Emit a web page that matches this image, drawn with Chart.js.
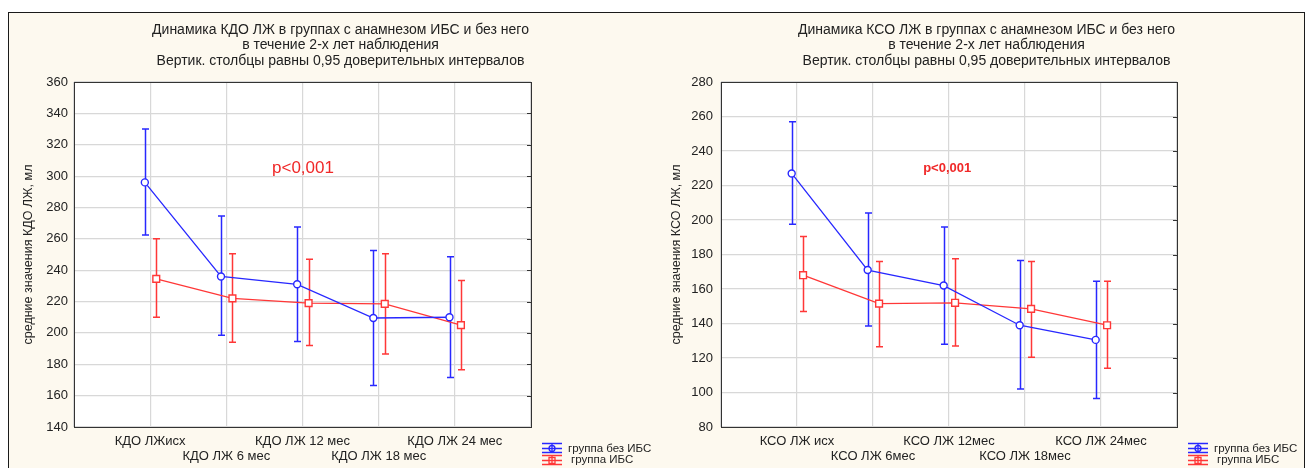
<!DOCTYPE html>
<html>
<head>
<meta charset="utf-8">
<script src="https://cdn.jsdelivr.net/npm/chart.js@4.4.1/dist/chart.umd.min.js"></script>
<style>
  html, body { margin: 0; padding: 0; background: #ffffff; }
  body { width: 1314px; height: 468px; overflow: hidden; position: relative; }
  #panel { position: absolute; left: 8px; top: 12px; width: 1295px; height: 470px;
           border: 1px solid #1a1a1a; background: #fdf9ef; }
  canvas { position: absolute; top: 0; }
  #ch-kdo { left: 0; }
  #ch-kso { left: 657px; }
</style>
</head>
<body>
<div id="panel"></div>
<canvas id="ch-kdo" width="681" height="468"></canvas>
<canvas id="ch-kso" width="659" height="468"></canvas>

<script>
// --- data ---
const SERIES_NAMES = ["группа без ИБС", "группа ИБС"];
const SUBTITLE = "Вертик. столбцы равны 0,95 доверительных интервалов";

// КДО (end-diastolic volume)
const kdoLabels = ["КДО ЛЖисх", "КДО ЛЖ 6 мес", "КДО ЛЖ 12 мес", "КДО ЛЖ 18 мес", "КДО ЛЖ 24 мес"];
const kdoNoIhdMean = [296, 236, 231, 209.5, 210];
const kdoNoIhdLow  = [262.5, 198.5, 194.5, 166.5, 171.5];
const kdoNoIhdHigh = [330, 274.5, 267.5, 252.5, 248.5];
const kdoIhdMean   = [234.5, 222, 219, 218.5, 205];
const kdoIhdLow    = [210, 194, 192, 186.5, 176.5];
const kdoIhdHigh   = [260, 250.5, 247, 250.5, 233.5];
const kdoTicks = { min: 140, max: 360, step: 20 };

// КСО (end-systolic volume)
const ksoLabels = ["КСО ЛЖ исх", "КСО ЛЖ 6мес", "КСО ЛЖ 12мес", "КСО ЛЖ 18мес", "КСО ЛЖ 24мес"];
const ksoNoIhdMean = [227, 171, 162, 139, 130.5];
const ksoNoIhdLow  = [197.5, 138.5, 128, 102, 96.5];
const ksoNoIhdHigh = [257, 204, 196, 176.5, 164.5];
const ksoIhdMean   = [168, 151.5, 152, 148.5, 139];
const ksoIhdLow    = [147, 126.5, 127, 120.5, 114];
const ksoIhdHigh   = [190.5, 176, 177.5, 176, 164.5];
const ksoTicks = { min: 80, max: 280, step: 20 };

// --- styles ---
const BLUE = "rgb(40, 40, 255)";
const RED = "rgb(255, 55, 55)";
const INK = "#222222";
const FONT = "'Liberation Sans', Arial, sans-serif";
const CAP = 3.5;             // half width of error bar caps
const SHIFT = [-0.07, 0.08]; // horizontal dodge of the two groups

Chart.defaults.font.family = FONT;
Chart.defaults.color = INK;

// white plot area + frame + inward ticks on the right side
const frame = {
  id: "frame",
  beforeDraw(chart) {
    const { ctx, chartArea: a } = chart;
    ctx.save();
    ctx.fillStyle = "#ffffff";
    ctx.fillRect(a.left, a.top, a.right - a.left, a.bottom - a.top);
    ctx.restore();
  },
  afterDraw(chart) {
    const { ctx, chartArea: a, scales: { y } } = chart;
    ctx.save();
    ctx.strokeStyle = "#333333";
    ctx.lineWidth = 1;
    ctx.strokeRect(Math.round(a.left) + 0.5, Math.round(a.top) + 0.5,
                   Math.round(a.right - a.left), Math.round(a.bottom - a.top));
    ctx.beginPath();
    y.ticks.forEach(t => {
      const py = Math.round(y.getPixelForValue(t.value)) + 0.5;
      ctx.moveTo(a.right - 4, py);
      ctx.lineTo(a.right, py);
    });
    ctx.stroke();
    ctx.restore();
  }
};

// vertical confidence-interval bars
const errorBars = {
  id: "errorBars",
  beforeDatasetsDraw(chart) {
    const { ctx, scales: { y } } = chart;
    chart.data.datasets.forEach((ds, di) => {
      const meta = chart.getDatasetMeta(di);
      ctx.save();
      ctx.strokeStyle = ds.borderColor;
      ctx.lineWidth = 1.5;
      ctx.beginPath();
      meta.data.forEach((pt, i) => {
        const d = ds.data[i];
        const x = Math.round(pt.x) + 0.5;
        const top = y.getPixelForValue(d.hi);
        const bot = y.getPixelForValue(d.lo);
        ctx.moveTo(x, top); ctx.lineTo(x, bot);
        ctx.moveTo(x - CAP, top); ctx.lineTo(x + CAP, top);
        ctx.moveTo(x - CAP, bot); ctx.lineTo(x + CAP, bot);
      });
      ctx.stroke();
      ctx.restore();
    });
  }
};

// p-value note, placed in data units
const pNote = {
  id: "pNote",
  afterDatasetsDraw(chart, args, opts) {
    const { ctx, scales: { x, y } } = chart;
    ctx.save();
    ctx.fillStyle = "rgb(240, 40, 40)";
    ctx.font = opts.font;
    ctx.textAlign = "left";
    ctx.textBaseline = "middle";
    ctx.fillText(opts.text, x.getPixelForValue(opts.x), y.getPixelForValue(opts.y));
    ctx.restore();
  }
};

// legend in the lower right corner, outside the plot
const sideLegend = {
  id: "sideLegend",
  afterDraw(chart) {
    const { ctx, chartArea: a } = chart;
    chart.data.datasets.forEach((ds, i) => {
      const cx = a.right + 21;
      const cy = a.bottom + 21.5 + i * 12;
      ctx.save();
      ctx.strokeStyle = ds.borderColor;
      ctx.lineWidth = 1.3;
      ctx.beginPath();
      ctx.moveTo(cx - 10, cy - 5); ctx.lineTo(cx + 10, cy - 5);
      ctx.moveTo(cx - 10, cy); ctx.lineTo(cx + 10, cy);
      ctx.moveTo(cx - 10, cy + 4); ctx.lineTo(cx + 10, cy + 4);
      ctx.moveTo(cx, cy - 5); ctx.lineTo(cx, cy + 4);
      ctx.stroke();
      ctx.beginPath();
      if (i === 0) ctx.arc(cx, cy, 3, 0, Math.PI * 2);
      else ctx.rect(cx - 3, cy - 3, 6, 6);
      ctx.stroke();
      ctx.fillStyle = INK;
      ctx.font = "11.5px " + FONT;
      ctx.textBaseline = "middle";
      ctx.fillText(ds.label, a.right + 37 + i * 3, a.bottom + 22 + i * 10.5);
      ctx.restore();
    });
  }
};

function series(mean, low, high, shift) {
  return mean.map((m, i) => ({ x: i + 1 + shift, y: m, lo: low[i], hi: high[i] }));
}

function buildChart(id, c) {
  const ctx = document.getElementById(id);
  return new Chart(ctx, {
    type: "scatter",
    data: {
      datasets: [
        { label: SERIES_NAMES[0], data: series(c.noIhd[0], c.noIhd[1], c.noIhd[2], SHIFT[0]),
          showLine: true, borderColor: BLUE, borderWidth: 1.3,
          pointStyle: "circle", pointRadius: 3.5, pointBorderWidth: 1.4,
          pointBorderColor: BLUE, pointBackgroundColor: "#ffffff" },
        { label: SERIES_NAMES[1], data: series(c.ihd[0], c.ihd[1], c.ihd[2], SHIFT[1]),
          showLine: true, borderColor: RED, borderWidth: 1.3,
          pointStyle: "rect", pointRadius: 4.8, pointBorderWidth: 1.4,
          pointBorderColor: RED, pointBackgroundColor: "#ffffff" }
      ]
    },
    options: {
      responsive: false,
      animation: false,
      layout: { padding: 0 },
      plugins: {
        legend: { display: false },
        tooltip: { enabled: false },
        title: {
          display: true, text: c.title, color: INK,
          font: { size: 14, weight: "normal", lineHeight: 1.03 },
          padding: { top: 23.1, bottom: 0 }
        },
        subtitle: {
          display: true, text: SUBTITLE, color: INK,
          font: { size: 14, weight: "normal", lineHeight: 1.2 },
          padding: { top: 1, bottom: 12.3 }
        },
        pNote: c.note
      },
      scales: {
        x: {
          type: "linear", min: 0, max: 6,
          afterFit: s => { s.height = 41; },
          ticks: {
            stepSize: 1, autoSkip: false, maxRotation: 0, padding: 6.5,
            color: INK, font: { size: 13 },
            callback: v => {
              const i = Math.round(v) - 1;
              if (v !== Math.round(v) || i < 0 || i >= c.labels.length) return "";
              return i % 2 === 0 ? [c.labels[i], ""] : ["", c.labels[i]];
            }
          },
          grid: { color: "#d8d8d8", lineWidth: 1.2, drawTicks: false },
          border: { display: false }
        },
        y: {
          min: c.ticks.min, max: c.ticks.max,
          afterFit: s => { s.width = c.leftW; },
          ticks: { stepSize: c.ticks.step, padding: c.yPad, color: INK, font: { size: 13 } },
          grid: { color: "#d8d8d8", lineWidth: 1.2, drawTicks: false },
          border: { display: false },
          title: { display: true, text: c.yTitle, color: INK,
                   font: { size: 12.5, lineHeight: 1.2 }, padding: { top: c.yTitlePad, bottom: 0 } }
        },
        // empty right-hand axis: keeps room for the legend so the titles centre like the original
        yr: {
          position: "right", min: c.ticks.min, max: c.ticks.max,
          afterFit: s => { s.width = c.rightW; },
          ticks: { display: false },
          grid: { display: false },
          border: { display: false }
        }
      }
    },
    plugins: [frame, errorBars, pNote, sideLegend]
  });
}

buildChart("ch-kdo", {
  labels: kdoLabels, ticks: kdoTicks,
  noIhd: [kdoNoIhdMean, kdoNoIhdLow, kdoNoIhdHigh],
  ihd: [kdoIhdMean, kdoIhdLow, kdoIhdHigh],
  title: ["Динамика КДО ЛЖ в группах с анамнезом ИБС и без него", "в течение 2-х лет наблюдения"],
  yTitle: "средние значения КДО ЛЖ, мл",
  note: { text: "p<0,001", x: 2.6, y: 305, font: "17px " + FONT },
  leftW: 74, yPad: 6, yTitlePad: 21.5, rightW: 150
});

buildChart("ch-kso", {
  labels: ksoLabels, ticks: ksoTicks,
  noIhd: [ksoNoIhdMean, ksoNoIhdLow, ksoNoIhdHigh],
  ihd: [ksoIhdMean, ksoIhdLow, ksoIhdHigh],
  title: ["Динамика КСО ЛЖ в группах с анамнезом ИБС и без него", "в течение 2-х лет наблюдения"],
  yTitle: "средние значения КСО ЛЖ, мл",
  note: { text: "p<0,001", x: 2.66, y: 230, font: "bold 13px " + FONT },
  leftW: 64, yPad: 8, yTitlePad: 12.5, rightW: 139
});
</script>
</body>
</html>
